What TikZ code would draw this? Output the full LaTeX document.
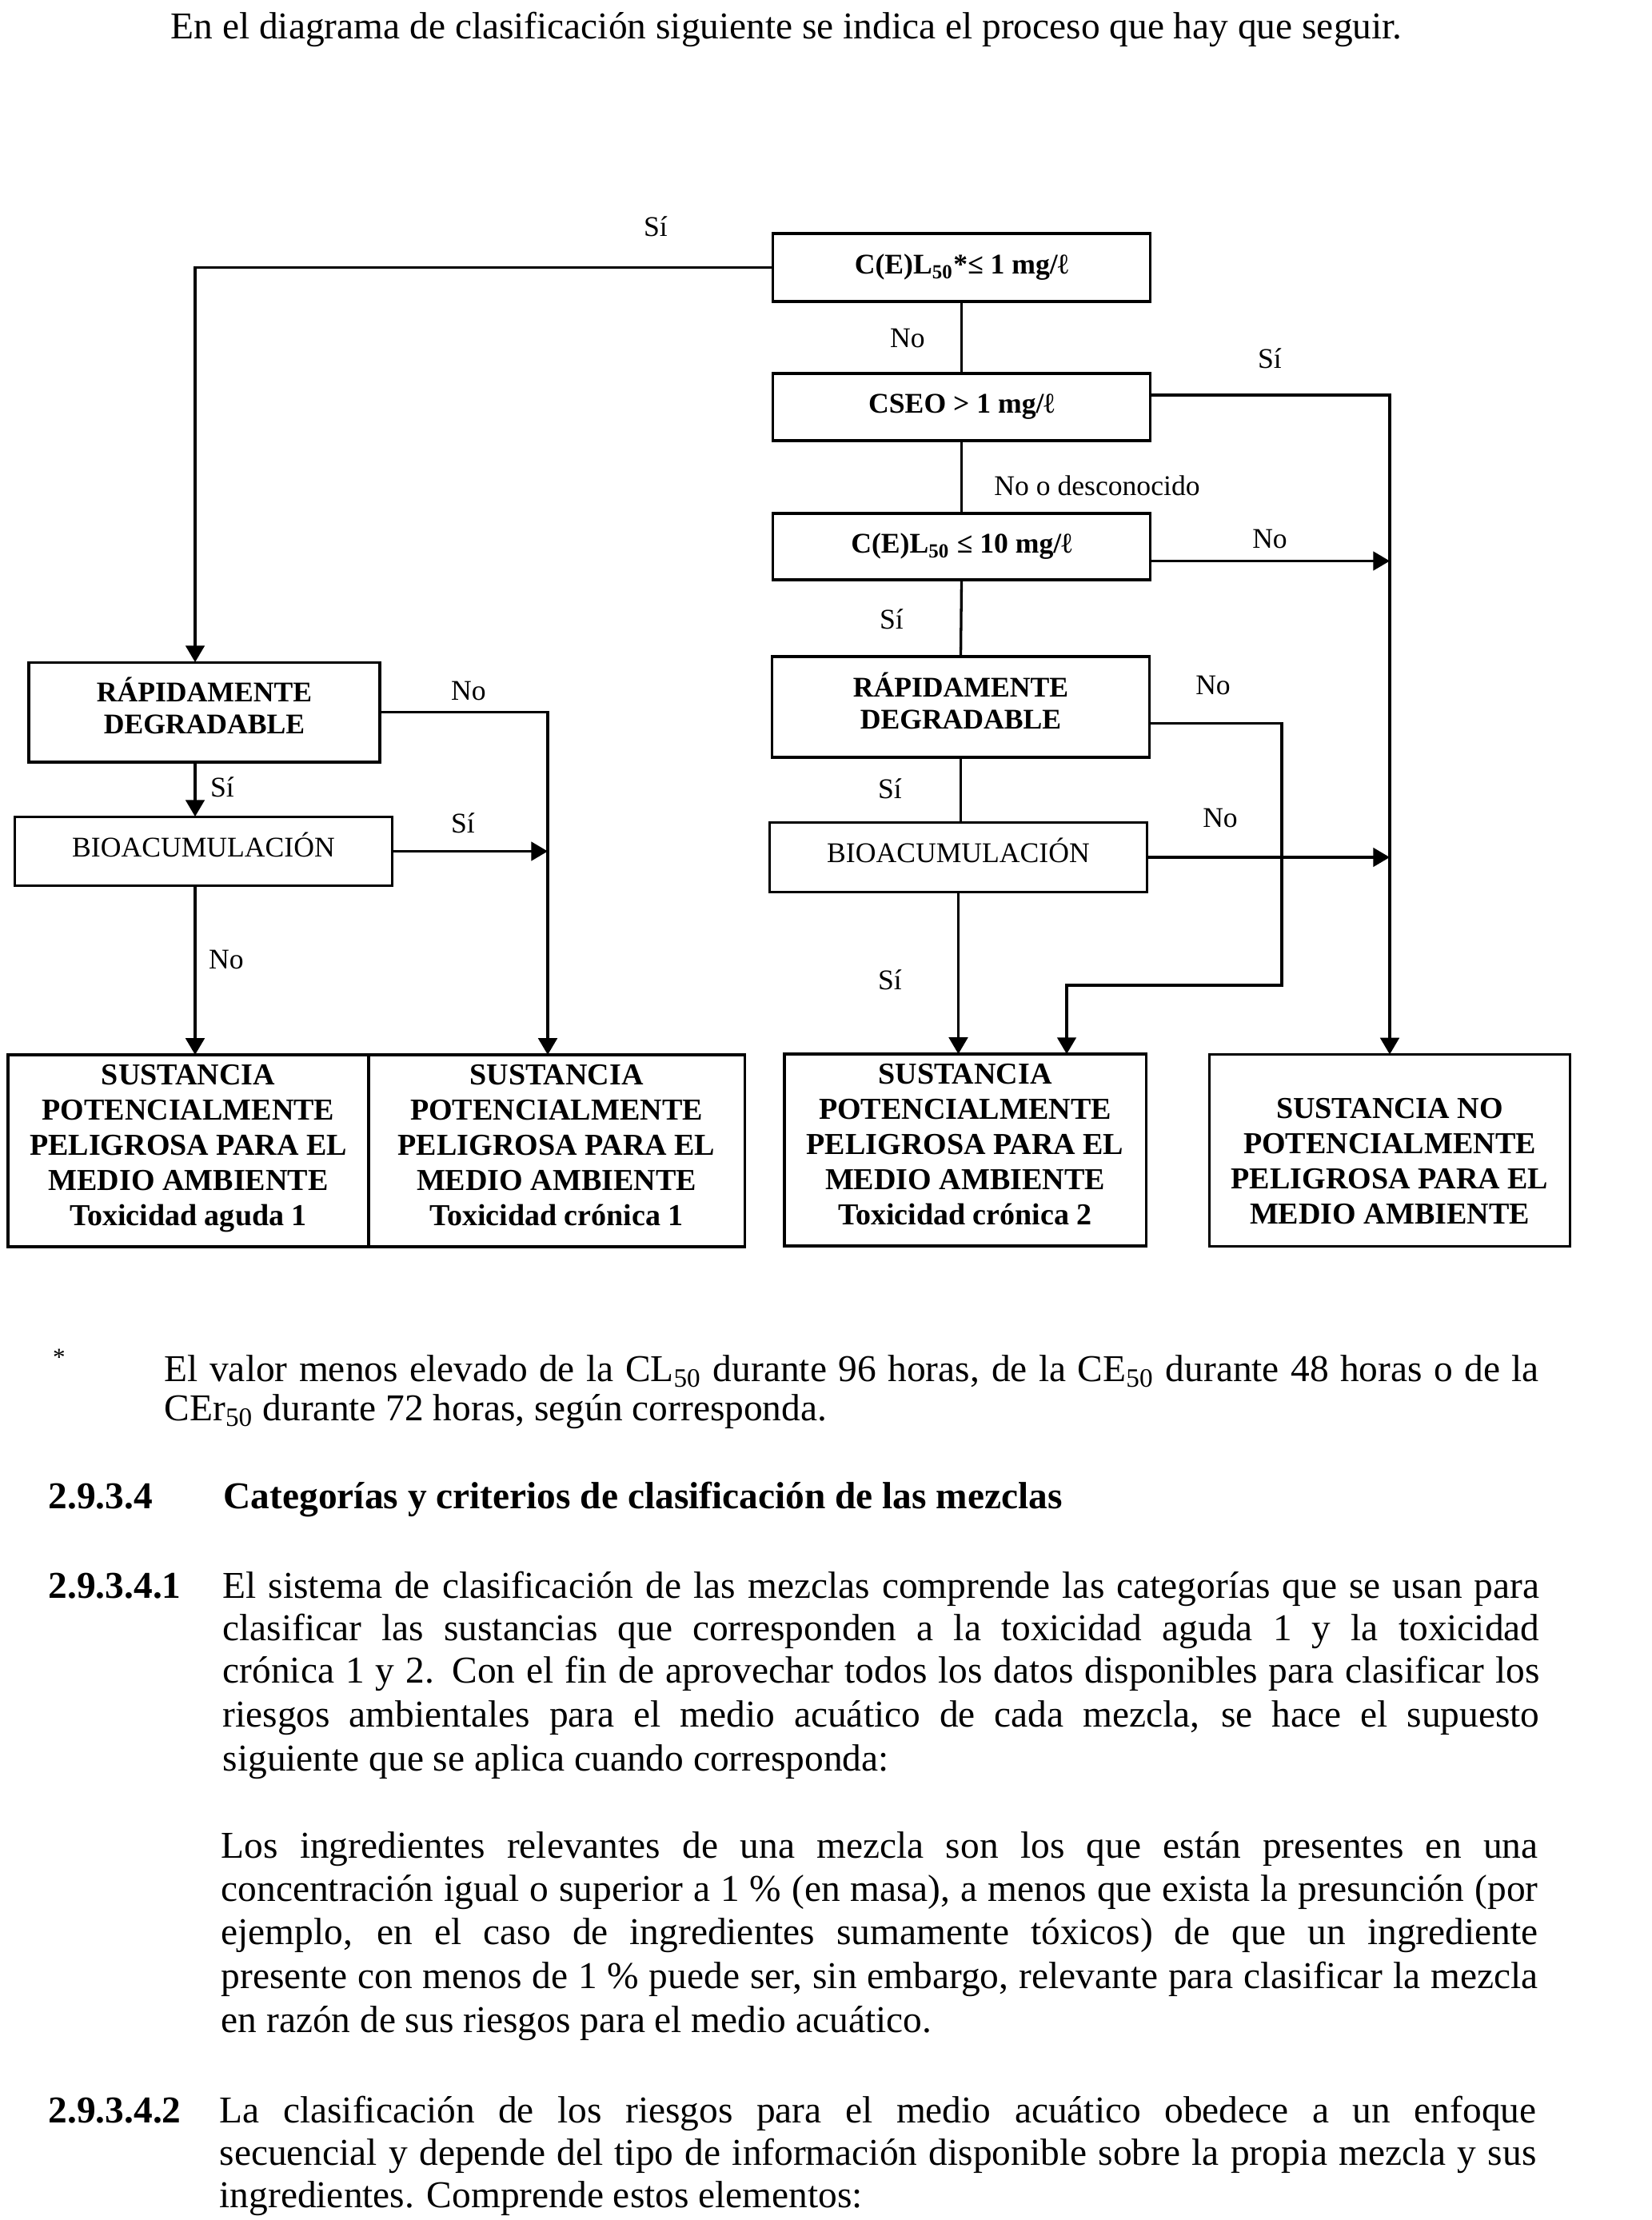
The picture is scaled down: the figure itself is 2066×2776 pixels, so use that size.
\documentclass[tikz,border=0pt]{standalone}
\usepackage{fontspec}
\setmainfont{Liberation Serif}
\usetikzlibrary{arrows.meta, positioning, calc}

\newlength{\parwd}\setlength{\parwd}{476pt}
\newlength{\fnwd}\setlength{\fnwd}{497pt}
\newcommand{\jline}[1]{\makebox[\parwd][s]{#1}}
\newcommand{\fnline}[1]{\makebox[\fnwd][s]{#1}}
\newcommand{\subi}[1]{\textsubscript{#1}}
\newcommand{\bajo}[1]{\rule[-#1]{0pt}{0pt}}

\tikzset{
  caja/.style={draw, line width=0.9pt, inner sep=0pt, outer sep=0pt, align=center,
    font=\fontsize{10.3}{11.6}\selectfont\bfseries},
  cajafin/.style={caja, minimum height=69.4pt, font=\fontsize{11}{12.7}\selectfont\bfseries},
  linea/.style={line width=0.95pt},
  flecha/.style={-{Triangle[length=6pt,width=6.8pt]}},
  etiq/.style={inner sep=0pt, font=\fontsize{10.3}{12}\selectfont},
  cuerpo/.style={anchor=base west, inner sep=0pt, font=\fontsize{13.7}{15.6}\selectfont},
}

\begin{document}
\begin{tikzpicture}[x=0.28908pt, y=-0.28908pt]
        \fill[white] (0,0) rectangle (2066,2776);
        \node[cuerpo] (intro) at (213,49) {En el diagrama de clasificación siguiente se indica el proceso que hay que seguir.};

        % decisiones de la columna derecha
        \node[caja, minimum width=136.2pt, minimum height=24.6pt] (c1) at (1202.5,334.5) {C(E)L\subi{50}*≤ 1 mg/ℓ};
        \node[caja, minimum width=136.2pt, minimum height=24.3pt] (cseo) at (1202.5,509) {CSEO > 1 mg/ℓ};
        \node[caja, minimum width=136.2pt, minimum height=24pt] (c10) at (1202.5,683.5) {C(E)L\subi{50} ≤ 10 mg/ℓ};
        \node[caja, minimum width=126.9pt, minimum height=36.1pt] (rapL) at (255.5,890.5) {RÁPIDAMENTE\\DEGRADABLE\bajo{4.6pt}};
        \node[caja, minimum width=136.2pt, minimum height=25.1pt, font=\fontsize{10.3}{12}\selectfont] (bioL) at (254.5,1064.5) {BIOACUMULACIÓN\bajo{5pt}};
        \node[caja, minimum width=136.2pt, minimum height=36.4pt] (rapR) at (1201.5,884) {RÁPIDAMENTE\\DEGRADABLE\bajo{4.6pt}};
        \node[caja, minimum width=136.2pt, minimum height=24.9pt, font=\fontsize{10.3}{12}\selectfont] (bioR) at (1198.5,1072) {BIOACUMULACIÓN\bajo{5pt}};

        % resultados
        \node[cajafin, minimum width=130.4pt] (agu1) at (235.5,1439) {SUSTANCIA\\POTENCIALMENTE\\PELIGROSA PARA EL\\MEDIO AMBIENTE\\Toxicidad aguda 1\bajo{4pt}};
        \node[cajafin, minimum width=135.9pt] (cro1) at (696,1439) {SUSTANCIA\\POTENCIALMENTE\\PELIGROSA PARA EL\\MEDIO AMBIENTE\\Toxicidad crónica 1\bajo{4pt}};
        \node[cajafin, minimum width=130.7pt] (cro2) at (1207,1438) {SUSTANCIA\\POTENCIALMENTE\\PELIGROSA PARA EL\\MEDIO AMBIENTE\\Toxicidad crónica 2\bajo{4pt}};
        \node[cajafin, minimum width=130.4pt] (nop) at (1738,1438.5) {\rule{0pt}{15pt}SUSTANCIA NO\\POTENCIALMENTE\\PELIGROSA PARA EL\\MEDIO AMBIENTE};

        \coordinate (colL) at (244,0);
        \coordinate (colB) at (685,0);
        \coordinate (kneeR) at (1603,1232);
        \coordinate (inC) at (1334,1318);
        \coordinate (cseoo) at ([yshift=4.3pt]cseo.east);
        \coordinate (c10o) at ([yshift=-5.2pt]c10.east);
        \coordinate (rapRo) at ([yshift=-6pt]rapR.east);

        \draw[linea, flecha] (c1.west) -| (colL |- rapL.north);
        \draw[linea] (c1.south) -- (cseo.north);
        \draw[linea, flecha] (cseoo) -| (nop.north);
        \draw[linea] (cseo.south) -- (c10.north);
        \draw[linea, flecha] (c10o) -- (c10o -| nop.north);
        \draw[linea] (c10.south) -- (rapR.north);
        \draw[linea, flecha] (rapL.east) -| (colB |- cro1.north);
        \draw[linea, flecha] (colL |- rapL.south) -- (colL |- bioL.north);
        \draw[linea, flecha] (bioL.east) -- (bioL.east -| colB);
        \draw[linea, flecha] (colL |- bioL.south) -- (colL |- agu1.north);
        \draw[linea, flecha] (rapRo) -| (kneeR) -| (inC);
        \draw[linea] (rapR.south) -- (rapR.south |- bioR.north);
        \draw[linea, flecha] (bioR.east) -- (bioR.east -| nop.north);
        \draw[linea, flecha] (bioR.south) -- (bioR.south |- cro2.north);

        \node[etiq] (si1) at (820,283) {Sí};
        \node[etiq] (no1) at (1135,423) {No};
        \node[etiq] (si2) at (1588,448) {Sí};
        \node[etiq] (nodes) at (1372,607) {No o desconocido};
        \node[etiq] (no2) at (1588,674) {No};
        \node[etiq] (si3) at (1115,774) {Sí};
        \node[etiq] (no3) at (586,864) {No};
        \node[etiq] (si4) at (278,984) {Sí};
        \node[etiq] (si5) at (579,1029) {Sí};
        \node[etiq] (no4) at (283,1200) {No};
        \node[etiq] (no5) at (1517,857) {No};
        \node[etiq] (si6) at (1113,986) {Sí};
        \node[etiq] (no6) at (1526,1023) {No};
        \node[etiq] (si7) at (1113,1225) {Sí};

        % nota y texto
        \node[inner sep=0pt, font=\fontsize{9}{10}\selectfont] (ast) at (74,1697) {*};
        \node[cuerpo] (fn1) at (205,1727) {\fnline{El valor menos elevado de la CL\subi{50} durante 96 horas, de la CE\subi{50} durante 48 horas o de la}};
        \node[cuerpo] (fn2) at (205,1776) {CEr\subi{50} durante 72 horas, según corresponda.};

        \node[cuerpo, font=\fontsize{13.7}{15.6}\selectfont\bfseries] (h1n) at (60,1886) {2.9.3.4};
        \node[cuerpo, font=\fontsize{13.7}{15.6}\selectfont\bfseries] (h1) at (279,1886) {Categorías y criterios de clasificación de las mezclas};

        \node[cuerpo, font=\fontsize{13.7}{15.6}\selectfont\bfseries] (p1n) at (60,1998) {2.9.3.4.1};
        \node[cuerpo] (p1a) at (278,1998) {\jline{El sistema de clasificación de las mezclas comprende las categorías que se usan para}};
        \node[cuerpo] (p1b) at (278,2051) {\jline{clasificar las sustancias que corresponden a la toxicidad aguda 1 y la toxicidad}};
        \node[cuerpo] (p1c) at (278,2104) {\jline{crónica 1 y 2. Con el fin de aprovechar todos los datos disponibles para clasificar los}};
        \node[cuerpo] (p1d) at (278,2159) {\jline{riesgos ambientales para el medio acuático de cada mezcla, se hace el supuesto}};
        \node[cuerpo] (p1e) at (278,2214) {siguiente que se aplica cuando corresponda:};

        \node[cuerpo] (p2a) at (276,2323) {\jline{Los ingredientes relevantes de una mezcla son los que están presentes en una}};
        \node[cuerpo] (p2b) at (276,2377) {\jline{concentración igual o superior a 1 \% (en masa), a menos que exista la presunción (por}};
        \node[cuerpo] (p2c) at (276,2431) {\jline{ejemplo, en el caso de ingredientes sumamente tóxicos) de que un ingrediente}};
        \node[cuerpo] (p2d) at (276,2486) {\jline{presente con menos de 1 \% puede ser, sin embargo, relevante para clasificar la mezcla}};
        \node[cuerpo] (p2e) at (276,2541) {en razón de sus riesgos para el medio acuático.};

        \node[cuerpo, font=\fontsize{13.7}{15.6}\selectfont\bfseries] (p3n) at (60,2654) {2.9.3.4.2};
        \node[cuerpo] (p3a) at (274,2654) {\jline{La clasificación de los riesgos para el medio acuático obedece a un enfoque}};
        \node[cuerpo] (p3b) at (274,2707) {\jline{secuencial y depende del tipo de información disponible sobre la propia mezcla y sus}};
        \node[cuerpo] (p3c) at (274,2760) {ingredientes. Comprende estos elementos:};
    \end{tikzpicture}
\end{document}
